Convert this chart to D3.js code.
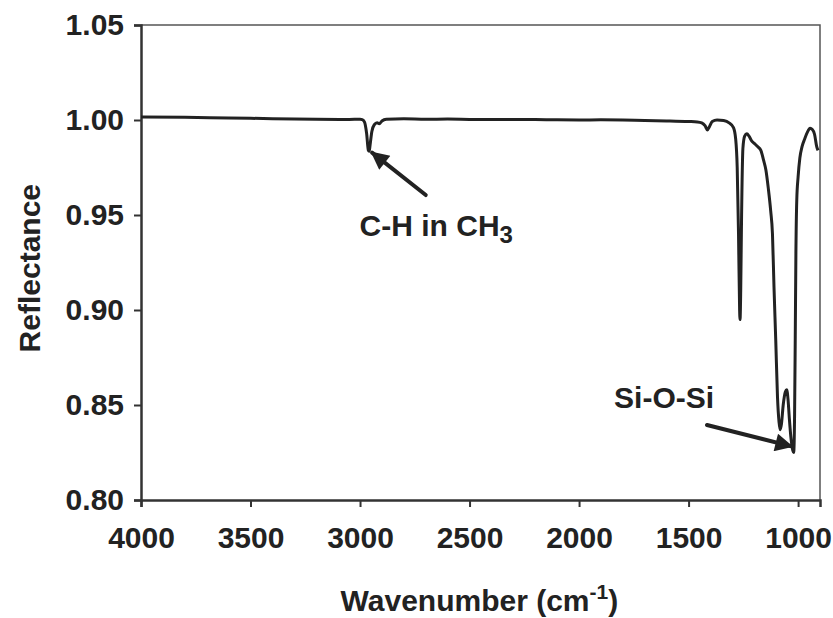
<!doctype html>
<html>
<head>
<meta charset="utf-8" />
<script src="https://d3js.org/d3.v7.min.js"></script>
<style>
  body { margin: 0; background: #fff; }
  text { font-family: "Liberation Sans", Arial, sans-serif; font-weight: bold; fill: #222; }
</style>
</head>
<body>
<div id="chart"></div>
<script type="text/javascript">

// spectrum
var wavenumber = [4000, 3800, 3600, 3400, 3200, 3050, 3000, 2990, 2980, 2970, 2962, 2958, 2954, 2946, 2935, 2922, 2912, 2900, 2880,
  2800, 2700, 2600, 2500, 2400, 2300, 2200, 2100, 2000, 1900, 1800, 1700, 1600, 1500, 1460, 1440, 1425, 1414, 1405, 1392,
  1370, 1340, 1315, 1295, 1285, 1278, 1272, 1267, 1265, 1262, 1258, 1252, 1244, 1234, 1224, 1212, 1200, 1185, 1170, 1158,
  1147, 1136, 1125, 1117, 1110, 1102, 1094, 1087, 1082, 1076, 1068, 1058, 1052, 1046, 1040, 1032, 1024, 1020, 1016, 1013,
  1010, 1006, 1000, 992, 982, 970, 958, 945, 935, 925, 915, 909];
var reflectance = [1.0016, 1.0014, 1.0011, 1.0007, 1.0004, 1.0003, 1.0004, 1.0002, 0.999, 0.993, 0.984, 0.9835, 0.987, 0.994, 0.9975, 0.9985, 0.998, 0.9995, 1.0004,
  1.0006, 1.0004, 1.0005, 1.0003, 1.0002, 1.0003, 1.0002, 1.0001, 1.0000, 1.0001, 1.0000, 0.9997, 0.9995, 0.9992, 0.999, 0.9985, 0.997, 0.9948, 0.9965, 0.9992,
  1.0000, 0.9997, 0.9985, 0.996, 0.990, 0.975, 0.940, 0.900, 0.895, 0.910, 0.950, 0.985, 0.9915, 0.9928, 0.9915, 0.989, 0.9877, 0.986, 0.984, 0.979,
  0.9737, 0.964, 0.952, 0.940, 0.912, 0.884, 0.854, 0.841, 0.837, 0.840, 0.850, 0.857, 0.858, 0.853, 0.843, 0.832, 0.826, 0.825, 0.845, 0.885,
  0.930, 0.958, 0.970, 0.980, 0.986, 0.990, 0.9935, 0.9956, 0.995, 0.9925, 0.986, 0.984];

var xTicks = [4000, 3500, 3000, 2500, 2000, 1500, 1000];
var yTicks = [0.80, 0.85, 0.90, 0.95, 1.00, 1.05];

var annotations = [
  {label: "C-H in CH", sub: "3", textX: 3002, textY: 0.939, fromX: 2700, fromY: 0.9605, toX: 2945, toY: 0.9828},
  {label: "Si-O-Si", sub: "", textX: 1840, textY: 0.8485, fromX: 1416, fromY: 0.8395, toX: 1030, toY: 0.8282}
];

var width = 833, height = 618;
var margin = {top: 25, right: 13, bottom: 118, left: 141};

var svg = d3.select("#chart").append("svg")
  .attr("width", width).attr("height", height);

var x = d3.scaleLinear().domain([4000, 900]).range([margin.left, width - margin.right]);
var y = d3.scaleLinear().domain([0.80, 1.05]).range([height - margin.bottom, margin.top]);

// frame top / right
svg.append("path")
  .attr("d", "M" + x(4000) + "," + y(1.05) + "H" + x(900) + "V" + y(0.80))
  .attr("fill", "none").attr("stroke", "#555").attr("stroke-width", 1.5);

var xAxis = svg.append("g")
  .attr("transform", "translate(0," + y(0.80) + ")")
  .call(d3.axisBottom(x).tickValues(xTicks).tickSize(7).tickPadding(20).tickFormat(d3.format("d")));
var yAxis = svg.append("g")
  .attr("transform", "translate(" + x(4000) + ",0)")
  .call(d3.axisLeft(y).tickValues(yTicks).tickSize(7).tickPadding(10).tickFormat(d3.format(".2f")));

[xAxis, yAxis].forEach(function(g) {
  g.select(".domain").attr("stroke", "#333").attr("stroke-width", 2.5);
  g.selectAll(".tick line").attr("stroke", "#333").attr("stroke-width", 2);
  g.selectAll("text").style("font-size", "30px").attr("fill", "#222");
});

// spectrum
var pts = wavenumber.map(function(w, i) { return [w, reflectance[i]]; });
var line = d3.line()
  .x(function(d) { return x(d[0]); })
  .y(function(d) { return y(d[1]); })
  .curve(d3.curveMonotoneX);

svg.append("path")
  .datum(pts)
  .attr("d", line)
  .attr("fill", "none")
  .attr("stroke", "#222")
  .attr("stroke-width", 3)
  .attr("stroke-linejoin", "round");

// arrows
svg.append("defs").append("marker")
  .attr("id", "head")
  .attr("viewBox", "0 0 10 10")
  .attr("refX", 9).attr("refY", 5)
  .attr("markerWidth", 6).attr("markerHeight", 4.5)
  .attr("markerUnits", "strokeWidth")
  .attr("orient", "auto")
  .append("path").attr("d", "M0,0L10,5L0,10Z").attr("fill", "#222");

annotations.forEach(function(a) {
  svg.append("line")
    .attr("x1", x(a.fromX)).attr("y1", y(a.fromY))
    .attr("x2", x(a.toX)).attr("y2", y(a.toY))
    .attr("stroke", "#222").attr("stroke-width", 4)
    .attr("stroke-linecap", "round")
    .attr("marker-end", "url(#head)");
  var t = svg.append("text")
    .attr("x", x(a.textX)).attr("y", y(a.textY))
    .style("font-size", "30px")
    .text(a.label);
  if (a.sub) {
    t.append("tspan").attr("dy", 7).style("font-size", "24px").text(a.sub);
  }
});

// axis titles
svg.append("text")
  .attr("x", x(2455)).attr("y", 611)
  .attr("text-anchor", "middle")
  .style("font-size", "30px")
  .text("Wavenumber (cm")
  .call(function(t) {
    t.append("tspan").attr("dy", -12).style("font-size", "21px").text("-1");
    t.append("tspan").attr("dy", 12).text(")");
  });

svg.append("text")
  .attr("transform", "translate(40," + y(0.922) + ") rotate(-90)")
  .attr("text-anchor", "middle")
  .style("font-size", "30px")
  .text("Reflectance");

</script>
</body>
</html>
